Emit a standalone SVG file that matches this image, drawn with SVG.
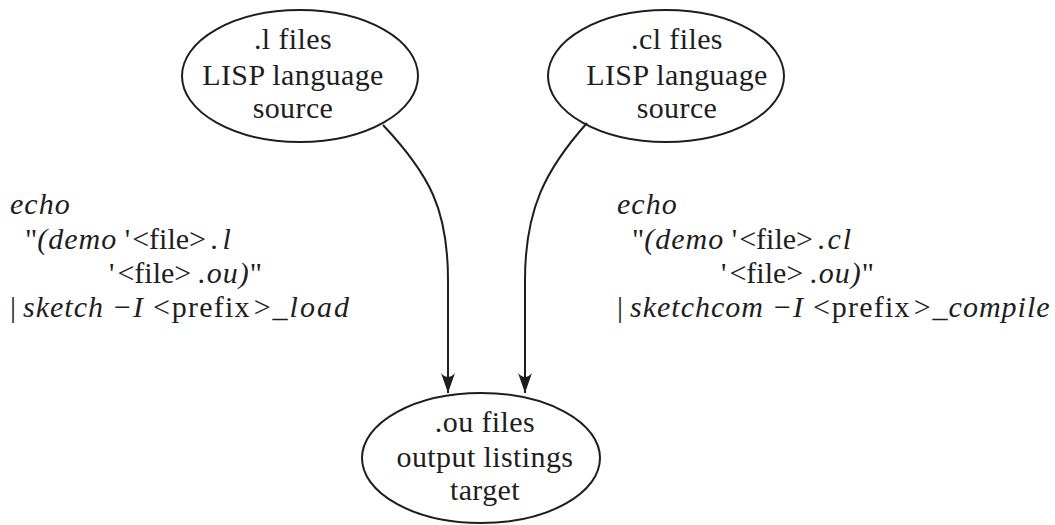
<svg xmlns="http://www.w3.org/2000/svg" width="1055" height="525" viewBox="0 0 1055 525">
  <style>
    .node ellipse { fill: #ffffff; stroke: #1e1e1e; stroke-width: 2; }
    .node text { font-family: "Liberation Serif", "DejaVu Serif", serif; font-size: 30px; letter-spacing: 0.4px; fill: #1e1e1e; text-anchor: middle; }
    .edge { fill: none; stroke: #1e1e1e; stroke-width: 2; }
    .cmd { font-family: "Liberation Serif", "DejaVu Serif", serif; font-size: 30px; fill: #1e1e1e; }
    .it { font-style: italic; letter-spacing: 1px; }
    .wide { letter-spacing: 1.2px; }
  </style>
  <defs>
    <marker id="arrow" markerUnits="userSpaceOnUse" markerWidth="24" markerHeight="16" refX="20" refY="7" orient="auto">
      <path d="M20,7 L0,0 Q8,7 0,14 Z" fill="#1e1e1e"/>
    </marker>
  </defs>

  <!-- source nodes -->
  <g id="node-l-files" class="node">
    <ellipse cx="300" cy="76" rx="118" ry="66"/>
    <text x="293" y="49">.l files</text>
    <text x="293" y="85">LISP language</text>
    <text x="293" y="118">source</text>
  </g>
  <g id="node-cl-files" class="node">
    <ellipse cx="666" cy="76" rx="118" ry="66"/>
    <text x="677" y="49">.cl files</text>
    <text x="677" y="85">LISP language</text>
    <text x="677" y="118">source</text>
  </g>

  <!-- target node -->
  <g id="node-ou-files" class="node">
    <ellipse cx="481" cy="458" rx="119" ry="65"/>
    <text x="485" y="432">.ou files</text>
    <text x="485" y="467">output listings</text>
    <text x="485" y="500">target</text>
  </g>

  <!-- connectors -->
  <g id="connectors">
    <path class="edge" d="M383,125 C430,175 448,210 448,280 L448,393" marker-end="url(#arrow)"/>
    <path class="edge" d="M587,123 C545,170 525,210 525,280 L525,393" marker-end="url(#arrow)"/>
  </g>

  <!-- command labels: italic for names, roman for quotes and angle-bracket placeholders -->
  <g id="label-load" class="cmd">
    <text x="10" y="214" class="it">echo</text>
    <text x="25" y="249">"<tspan class="it">(demo</tspan> '<tspan dx="2">&lt;</tspan>file&gt;<tspan class="it" dx="5" style="letter-spacing:4px">.l</tspan></text>
    <text x="109" y="283">'<tspan dx="3">&lt;</tspan>file&gt;<tspan class="it" dx="7">.ou)</tspan>"</text>
    <text x="10" y="317">|<tspan class="it" dx="7">sketch</tspan><tspan dx="10">−</tspan><tspan class="it" dx="2">I</tspan><tspan dx="9">&lt;</tspan><tspan class="wide" dx="2">prefix</tspan><tspan dx="3">&gt;</tspan><tspan class="it" dx="2" style="letter-spacing:2px">_load</tspan></text>
  </g>
  <g id="label-compile" class="cmd">
    <text x="617" y="214" class="it">echo</text>
    <text x="632" y="249">"<tspan class="it">(demo</tspan> '<tspan dx="2">&lt;</tspan>file&gt;<tspan class="it" dx="5" style="letter-spacing:2px">.cl</tspan></text>
    <text x="721" y="283">'<tspan dx="3">&lt;</tspan>file&gt;<tspan class="it" dx="7">.ou)</tspan>"</text>
    <text x="617" y="317">|<tspan class="it" dx="7">sketchcom</tspan><tspan dx="10">−</tspan><tspan class="it" dx="2">I</tspan><tspan dx="9">&lt;</tspan><tspan class="wide" dx="2">prefix</tspan><tspan dx="3">&gt;</tspan><tspan class="it" dx="2">_compile</tspan></text>
  </g>
</svg>
